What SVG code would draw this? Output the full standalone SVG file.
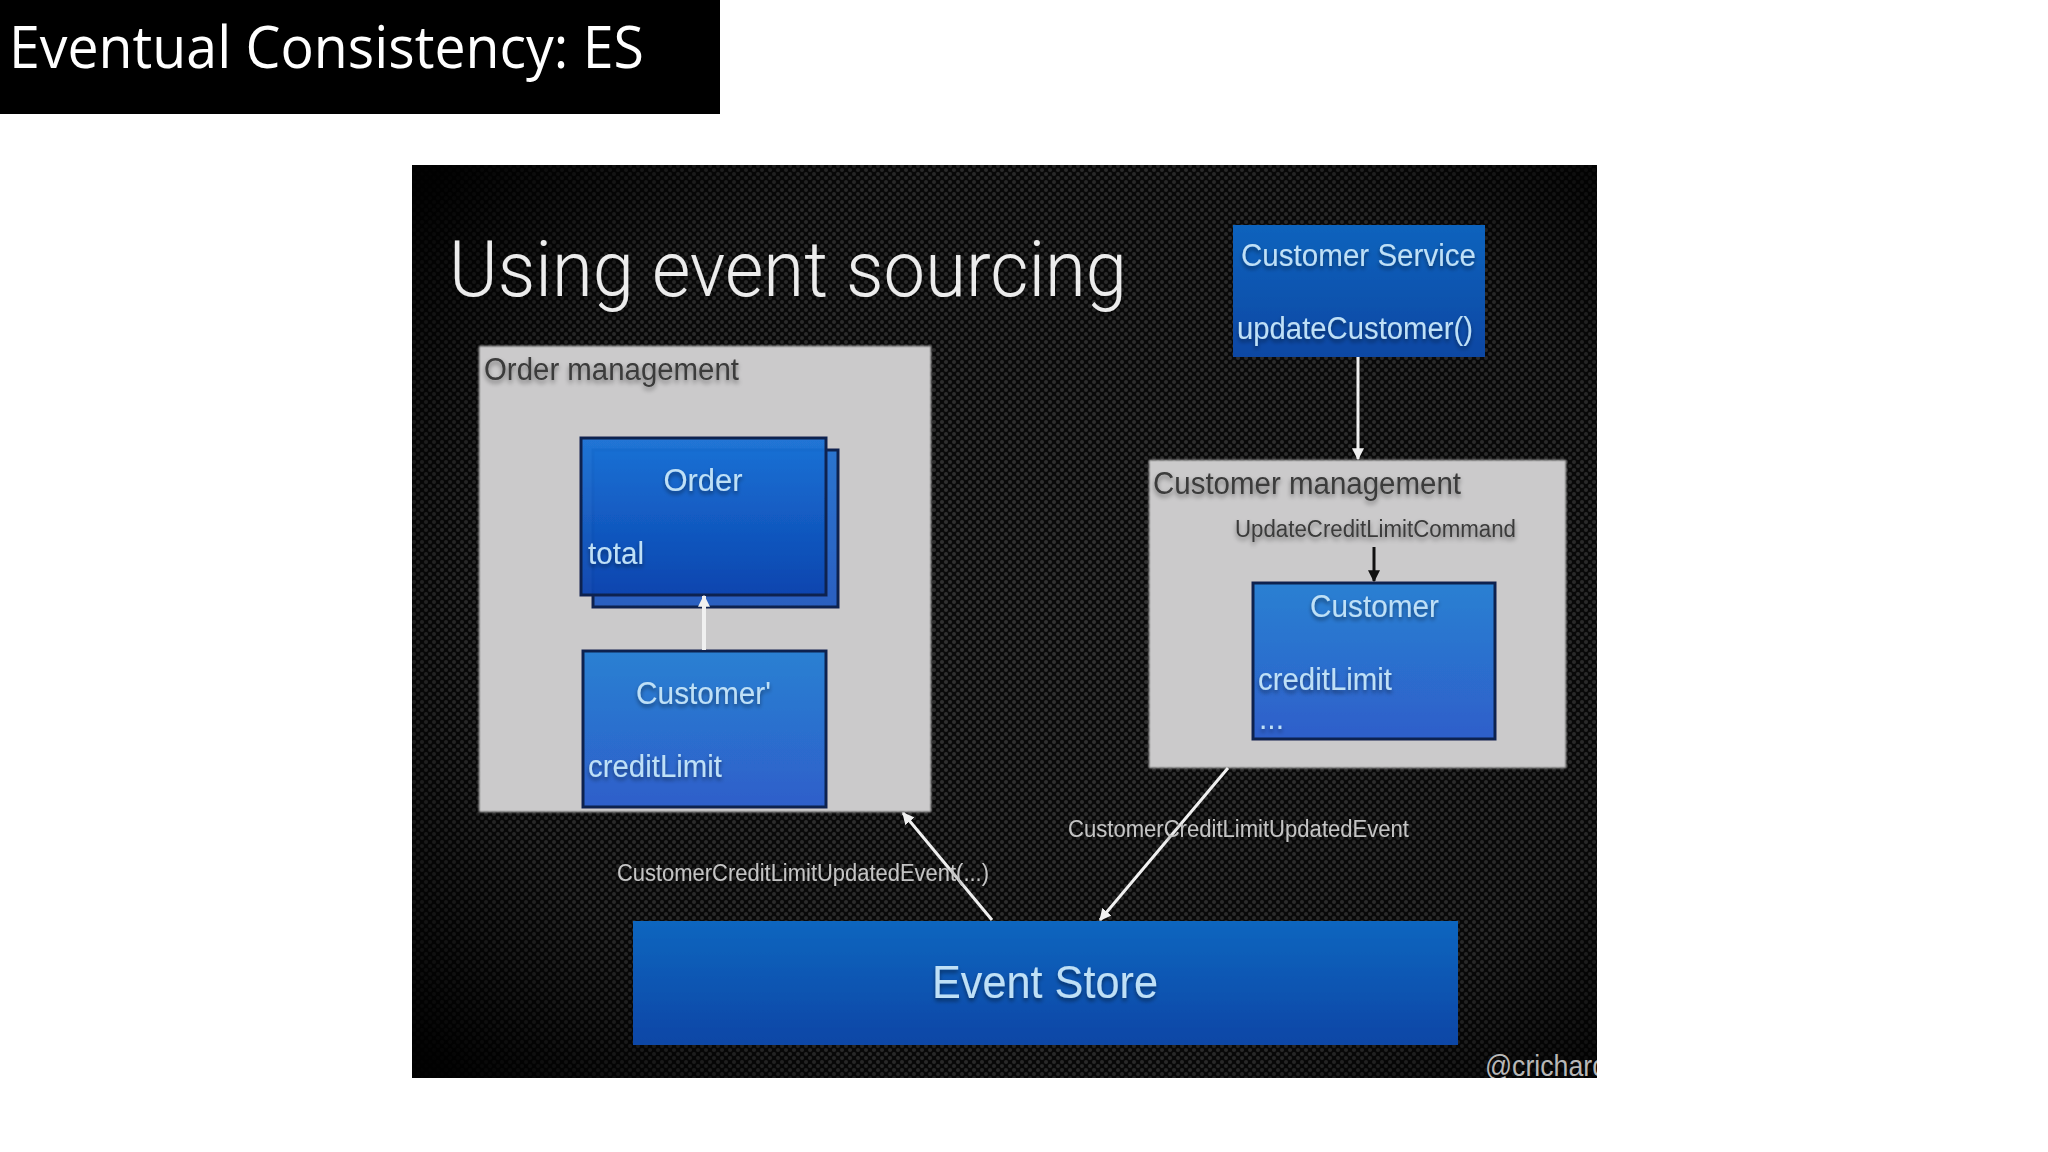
<svg xmlns="http://www.w3.org/2000/svg" width="2048" height="1152" viewBox="0 0 2048 1152">
<style>
text{font-family:"Liberation Sans",Arial,sans-serif}
.lt{fill:#bfe0f6;filter:url(#soft)}
.dk{fill:#3a3a3a;filter:url(#darkshadow)}
.gr{fill:#c4c4c4;filter:url(#soft)}
.group{fill:#cbcacb;filter:url(#boxshadow)}
.box{stroke:#10244f;stroke-width:3;filter:url(#tiny)}
.wire{stroke:#f0f0f0;fill:none}
</style>
<defs>
<pattern id="dots" width="8" height="8" patternUnits="userSpaceOnUse">
<rect width="8" height="8" fill="#0a0a0a"/>
<circle cx="2" cy="2" r="2" fill="#333"/>
<circle cx="6" cy="6" r="2" fill="#333"/>
</pattern>
<radialGradient id="vignette" cx="0.55" cy="0.5" r="0.72">
<stop offset="0" stop-color="#000" stop-opacity="0"/>
<stop offset="0.7" stop-color="#000" stop-opacity="0.2"/>
<stop offset="1" stop-color="#000" stop-opacity="0.95"/>
</radialGradient>
<linearGradient id="deep" x1="0" y1="0" x2="0" y2="1"><stop offset="0" stop-color="#1a72d6"/><stop offset="1" stop-color="#0b44ae"/></linearGradient>
<linearGradient id="back" x1="0" y1="0" x2="0" y2="1"><stop offset="0" stop-color="#2a74cf"/><stop offset="1" stop-color="#2b5fc0"/></linearGradient>
<linearGradient id="mid" x1="0" y1="0" x2="0" y2="1"><stop offset="0" stop-color="#2a80d2"/><stop offset="1" stop-color="#2e5fca"/></linearGradient>
<linearGradient id="service" x1="0" y1="0" x2="0" y2="1"><stop offset="0" stop-color="#0f63bd"/><stop offset="1" stop-color="#0b47a3"/></linearGradient>
<linearGradient id="store" x1="0" y1="0" x2="0" y2="1"><stop offset="0" stop-color="#0c66bf"/><stop offset="1" stop-color="#0a46a6"/></linearGradient>
<filter id="soft" x="-10%" y="-30%" width="120%" height="170%"><feGaussianBlur in="SourceGraphic" stdDeviation="0.5" result="b"/><feGaussianBlur in="SourceAlpha" stdDeviation="2"/><feOffset dy="3"/><feComponentTransfer><feFuncA type="linear" slope="0.45"/></feComponentTransfer><feMerge><feMergeNode/><feMergeNode in="b"/></feMerge></filter>
<filter id="darkshadow" x="-10%" y="-30%" width="120%" height="170%"><feGaussianBlur in="SourceGraphic" stdDeviation="0.5" result="b"/><feGaussianBlur in="SourceAlpha" stdDeviation="2.4"/><feOffset dy="3"/><feComponentTransfer><feFuncA type="linear" slope="0.45"/></feComponentTransfer><feMerge><feMergeNode/><feMergeNode in="b"/></feMerge></filter>
<filter id="tiny"><feGaussianBlur stdDeviation="0.6"/></filter>
<filter id="boxshadow" x="-3%" y="-3%" width="106%" height="106%"><feGaussianBlur stdDeviation="0.8"/></filter>
<marker id="awhite" viewBox="0 0 10 10" refX="9" refY="5" markerWidth="12" markerHeight="12" markerUnits="userSpaceOnUse" orient="auto"><path d="M0 0L10 5L0 10Z" fill="#f0f0f0"/></marker>
<marker id="ablack" viewBox="0 0 10 10" refX="9" refY="5" markerWidth="12" markerHeight="12" markerUnits="userSpaceOnUse" orient="auto"><path d="M0 0L10 5L0 10Z" fill="#111"/></marker>
<clipPath id="panelclip"><rect x="412" y="165" width="1185" height="913"/></clipPath>
</defs>
<rect width="2048" height="1152" fill="#fff"/>
<g id="heading">
<rect x="0" y="0" width="720" height="114" fill="#000"/>
<text x="9" y="68" font-size="59" fill="#fff" textLength="635" lengthAdjust="spacingAndGlyphs" style="font-family:'Open Sans','Liberation Sans',sans-serif">Eventual Consistency: ES</text>
</g>
<g id="panel">
<rect x="412" y="165" width="1185" height="913" fill="url(#dots)"/>
<rect x="412" y="165" width="1185" height="913" fill="url(#vignette)"/>
<text x="449" y="296" font-size="78" fill="#ececec" font-weight="300" textLength="678" lengthAdjust="spacingAndGlyphs" filter="url(#soft)" style="font-family:Roboto,'Liberation Sans',sans-serif">Using event sourcing</text>
<text x="1485" y="1076" font-size="30" fill="#b8b8b8" clip-path="url(#panelclip)" textLength="122" lengthAdjust="spacingAndGlyphs">@crichard</text>
</g>
<g id="order-management">
<rect class="group" x="479" y="346" width="452" height="466"/>
<text class="dk" x="484" y="380" font-size="31" textLength="255" lengthAdjust="spacingAndGlyphs">Order management</text>
</g>
<g id="order">
<rect class="box" x="593" y="450" width="245" height="157" fill="url(#back)"/>
<rect class="box" x="581" y="438" width="245" height="157" fill="url(#deep)" fill-opacity="0.96"/>
<text class="lt" x="703" y="491" font-size="31" text-anchor="middle">Order</text>
<text class="lt" x="588" y="564" font-size="31" textLength="56" lengthAdjust="spacingAndGlyphs">total</text>
</g>
<g id="customer-prime">
<rect class="box" x="583" y="651" width="243" height="156" fill="url(#mid)"/>
<text class="lt" x="636" y="704" font-size="31" textLength="135" lengthAdjust="spacingAndGlyphs">Customer'</text>
<text class="lt" x="588" y="777" font-size="31" textLength="134" lengthAdjust="spacingAndGlyphs">creditLimit</text>
</g>
<g id="customer-service">
<rect x="1233" y="225" width="252" height="132" fill="url(#service)" filter="url(#tiny)"/>
<text class="lt" x="1241" y="266" font-size="31" textLength="235" lengthAdjust="spacingAndGlyphs">Customer Service</text>
<text class="lt" x="1237" y="339" font-size="31" textLength="236" lengthAdjust="spacingAndGlyphs">updateCustomer()</text>
</g>
<g id="customer-management">
<rect class="group" x="1149" y="460" width="417" height="308"/>
<text class="dk" x="1153" y="494" font-size="31" textLength="308" lengthAdjust="spacingAndGlyphs">Customer management</text>
<text class="dk" x="1235" y="537" font-size="23" textLength="281" lengthAdjust="spacingAndGlyphs">UpdateCreditLimitCommand</text>
</g>
<g id="customer">
<rect class="box" x="1253" y="583" width="242" height="156" fill="url(#mid)"/>
<text class="lt" x="1310" y="617" font-size="31" textLength="129" lengthAdjust="spacingAndGlyphs">Customer</text>
<text class="lt" x="1258" y="690" font-size="31" textLength="134" lengthAdjust="spacingAndGlyphs">creditLimit</text>
<text class="lt" x="1259" y="729" font-size="31" textLength="25" lengthAdjust="spacingAndGlyphs">...</text>
</g>
<g id="event-store">
<rect x="633" y="921" width="825" height="124" fill="url(#store)" filter="url(#tiny)"/>
<text class="lt" x="932" y="998" font-size="46" textLength="226" lengthAdjust="spacingAndGlyphs">Event Store</text>
</g>
<g id="connectors">
<line class="wire" x1="1358" y1="357" x2="1358" y2="459" stroke-width="3" marker-end="url(#awhite)"/>
<line class="wire" x1="704" y1="650" x2="704" y2="596" stroke-width="4" marker-end="url(#awhite)"/>
<line x1="1374" y1="547" x2="1374" y2="581" stroke="#111" stroke-width="3" marker-end="url(#ablack)"/>
<line class="wire" x1="992" y1="920" x2="903" y2="813" stroke-width="3" marker-end="url(#awhite)"/>
<line class="wire" x1="1228" y1="768" x2="1100" y2="920" stroke-width="3" marker-end="url(#awhite)"/>
</g>
<g id="connector-labels">
<text class="gr" x="1068" y="837" font-size="23" textLength="341" lengthAdjust="spacingAndGlyphs">CustomerCreditLimitUpdatedEvent</text>
<text class="gr" x="617" y="881" font-size="23" textLength="372" lengthAdjust="spacingAndGlyphs">CustomerCreditLimitUpdatedEvent(...)</text>
</g>
</svg>
